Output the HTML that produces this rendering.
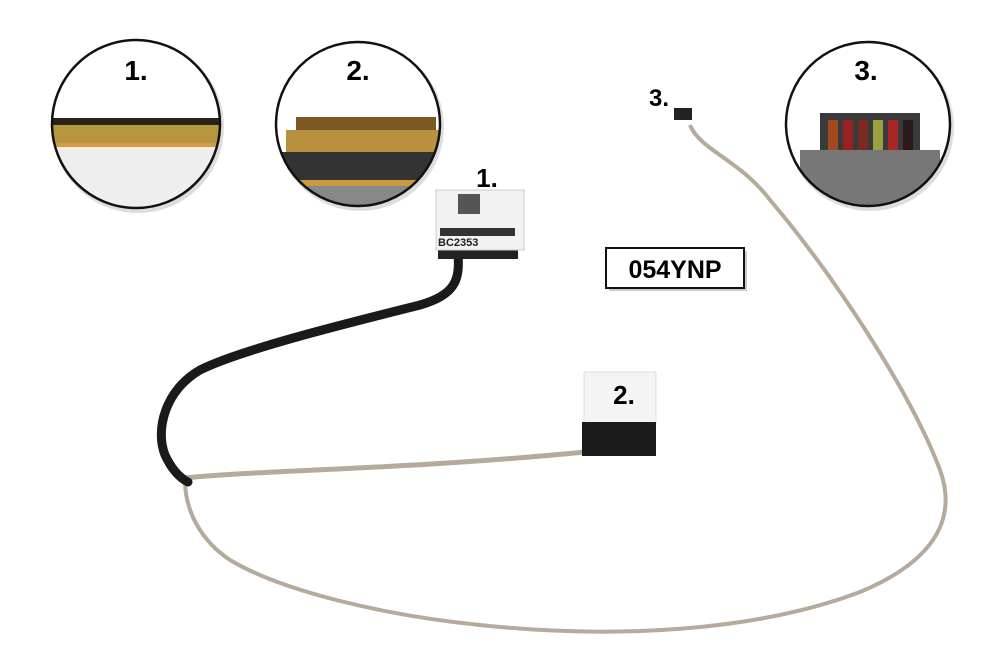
<!DOCTYPE html>
<html><head><style>
body{margin:0;background:#fff;}
svg{display:block}
text{font-family:"Liberation Sans",sans-serif;font-weight:bold}
</style></head><body>
<svg width="1000" height="666" viewBox="0 0 1000 666">
<defs>
<clipPath id="c1"><circle cx="136" cy="124" r="84"/></clipPath>
<clipPath id="c2"><circle cx="358" cy="124" r="82"/></clipPath>
<clipPath id="c3"><circle cx="868" cy="124" r="82"/></clipPath>
</defs>
<circle cx="138" cy="127" r="86" fill="#bbb" opacity=".5"/>
<g clip-path="url(#c1)">
<rect x="40" y="30" width="200" height="200" fill="#fff"/>
<rect x="50" y="118" width="180" height="8" fill="#2a2418"/>
<rect x="50" y="125" width="180" height="20" fill="#b8963f"/>
<rect x="50" y="143" width="180" height="4" fill="#d79a40"/>
<rect x="50" y="147" width="180" height="70" fill="#eee"/>
</g>
<circle cx="136" cy="124" r="84" fill="none" stroke="#111" stroke-width="2.5"/>
<text x="136" y="80" font-size="28" text-anchor="middle">1.</text>
<circle cx="360" cy="127" r="84" fill="#bbb" opacity=".5"/>
<g clip-path="url(#c2)">
<rect x="270" y="30" width="200" height="200" fill="#fff"/>
<rect x="296" y="117" width="140" height="14" fill="#7a5a20"/>
<rect x="286" y="130" width="160" height="22" fill="#b89040"/>
<rect x="270" y="152" width="200" height="28" fill="#333"/>
<rect x="270" y="180" width="200" height="6" fill="#c99a40"/>
<rect x="270" y="186" width="200" height="30" fill="#888"/>
</g>
<circle cx="358" cy="124" r="82" fill="none" stroke="#111" stroke-width="2.5"/>
<text x="358" y="80" font-size="28" text-anchor="middle">2.</text>
<circle cx="870" cy="127" r="84" fill="#bbb" opacity=".5"/>
<g clip-path="url(#c3)">
<rect x="780" y="30" width="200" height="200" fill="#fff"/>
<rect x="820" y="113" width="100" height="45" fill="#3a3a3a"/>
<rect x="828" y="120" width="10" height="40" fill="#a04a1e"/>
<rect x="843" y="120" width="10" height="40" fill="#9a2020"/>
<rect x="858" y="120" width="10" height="40" fill="#7a2a20"/>
<rect x="873" y="120" width="10" height="40" fill="#9aa040"/>
<rect x="888" y="120" width="10" height="40" fill="#aa2525"/>
<rect x="903" y="120" width="10" height="40" fill="#2a1a1a"/>
<rect x="800" y="150" width="140" height="60" fill="#777"/>
</g>
<circle cx="868" cy="124" r="82" fill="none" stroke="#111" stroke-width="2.5"/>
<text x="866" y="80" font-size="28" text-anchor="middle">3.</text>
<path d="M690 125 C700 150 740 160 770 200 C830 270 910 390 940 470 C960 525 925 565 860 592 C760 630 620 640 480 625 C380 615 280 590 230 560 C200 540 185 510 185 480" fill="none" stroke="#b5aa9b" stroke-width="4"/>
<path d="M185 478 C260 470 400 470 585 452" fill="none" stroke="#b5aa9b" stroke-width="5"/>
<path d="M458 255 C460 280 455 295 420 305 C340 325 240 350 200 370 C165 390 155 430 165 455 C172 470 180 478 188 482" fill="none" stroke="#1a1a1a" stroke-width="9" stroke-linecap="round"/>
<rect x="438" y="247" width="80" height="12" fill="#222"/>
<rect x="436" y="190" width="88" height="60" fill="#f2f2f2" stroke="#ccc"/>
<rect x="458" y="194" width="22" height="20" fill="#555"/>
<rect x="440" y="228" width="75" height="8" fill="#333"/>
<text x="438" y="246" font-size="11" font-weight="normal" fill="#222">BC2353</text>
<text x="487" y="187" font-size="26" text-anchor="middle">1.</text>
<rect x="584" y="372" width="72" height="52" fill="#f4f4f4" stroke="#ddd"/>
<rect x="582" y="422" width="74" height="34" fill="#1a1a1a"/>
<text x="624" y="404" font-size="26" text-anchor="middle">2.</text>
<rect x="674" y="108" width="18" height="12" fill="#222"/>
<text x="659" y="106" font-size="24" text-anchor="middle">3.</text>
<rect x="609" y="251" width="138" height="40" fill="#999" opacity=".5"/>
<rect x="606" y="248" width="138" height="40" fill="#fff" stroke="#111" stroke-width="2"/>
<text x="675" y="278" font-size="25" text-anchor="middle">054YNP</text>
</svg>
</body></html>
